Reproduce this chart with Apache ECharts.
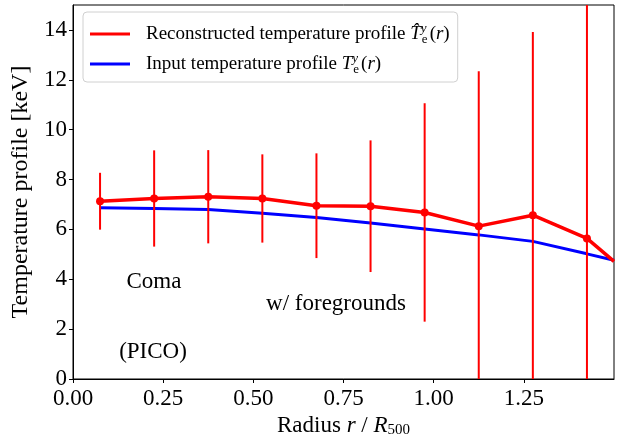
<!DOCTYPE html>
<html>
<head>
<meta charset="utf-8">
<script src="https://cdn.jsdelivr.net/npm/echarts@6/dist/echarts.min.js"></script>
<style>
html,body{margin:0;padding:0;background:#fff;}
#chart{width:621px;height:441px;}
</style>
</head>
<body>
<div id="chart"></div>
<script>
// ---- data ----
const radius = [0.075, 0.225, 0.375, 0.525, 0.675, 0.825, 0.975, 1.125, 1.275, 1.425, 1.5];
const reconTemp = [7.13, 7.24, 7.31, 7.24, 6.95, 6.93, 6.68, 6.13, 6.57, 5.64, 4.72];
const reconErr = [1.14, 1.93, 1.87, 1.77, 2.10, 2.64, 4.38, 6.21, 7.35, 10.5];
const inputTemp = [6.87, 6.84, 6.80, 6.65, 6.48, 6.26, 6.02, 5.78, 5.52, 5.02, 4.76];
const xTickValues = [0, 0.25, 0.5, 0.75, 1.0, 1.25];
const yTickValues = [0, 2, 4, 6, 8, 10, 12, 14];
const annotations = ['Coma', 'w/ foregrounds', '(PICO)'];

const FONT = '"Liberation Serif", "DejaVu Serif", serif';

const reconData = radius.map((r, i) => {
  const item = { value: [r, reconTemp[i]] };
  if (i >= reconErr.length) item.symbol = 'none';
  return item;
});
const inputData = radius.map((r, i) => [r, inputTemp[i]]);
const errData = reconErr.map((e, i) => [radius[i], reconTemp[i], e]);

const chart = echarts.init(document.getElementById('chart'), null, { renderer: 'canvas' });

const mathRich = {
  t: { fontFamily: FONT, fontSize: 19, color: '#000' },
  i: { fontFamily: FONT, fontSize: 19, fontStyle: 'italic', color: '#000' },
  p: { fontFamily: FONT, fontSize: 19, color: '#000' },
  sup: { fontFamily: FONT, fontSize: 13, fontStyle: 'italic', color: '#000', verticalAlign: 'top', width: 1 },
  sub: { fontFamily: FONT, fontSize: 13, color: '#000', verticalAlign: 'bottom', padding: [0, 2, 0, 0] },
  gap: { width: 11 }
};

chart.setOption({
  animation: false,
  backgroundColor: '#fff',
  grid: {
    left: 73, right: 7, top: 5, bottom: 62,
    show: true, borderColor: '#000', borderWidth: 1,
    containLabel: false, outerBoundsMode: 'none'
  },
  xAxis: {
    type: 'value', min: 0, max: 1.5,
    name: '{t|Radius }{i|r}{t| / }{i|R}{sub|500}',
    nameLocation: 'middle', nameGap: 35,
    nameTextStyle: {
      fontFamily: FONT, fontSize: 23, color: '#000',
      rich: {
        t: { fontFamily: FONT, fontSize: 23, color: '#000' },
        i: { fontFamily: FONT, fontSize: 23, fontStyle: 'italic', color: '#000' },
        sub: { fontFamily: FONT, fontSize: 15, color: '#000', verticalAlign: 'bottom' }
      }
    },
    axisLine: { show: true, lineStyle: { color: '#000', width: 1 } },
    axisTick: { show: true, inside: false, length: 4, lineStyle: { color: '#000' }, customValues: xTickValues },
    axisLabel: {
      customValues: xTickValues,
      formatter: v => v.toFixed(2),
      fontFamily: FONT, fontSize: 23, color: '#000', margin: 8
    },
    splitLine: { show: false }
  },
  yAxis: {
    type: 'value', min: 0, max: 15,
    name: 'Temperature profile [keV]',
    nameLocation: 'middle', nameGap: 37,
    nameTextStyle: { fontFamily: FONT, fontSize: 24, color: '#000' },
    axisLine: { show: true, lineStyle: { color: '#000', width: 1 } },
    axisTick: { show: true, inside: false, length: 4, lineStyle: { color: '#000' }, customValues: yTickValues },
    axisLabel: {
      customValues: yTickValues,
      fontFamily: FONT, fontSize: 23, color: '#000', margin: 6
    },
    splitLine: { show: false }
  },
  legend: {
    orient: 'vertical',
    left: 83, top: 12,
    padding: [10, 8, 6, 7],
    itemGap: 6,
    itemWidth: 40, itemHeight: 3,
    icon: 'rect',
    backgroundColor: 'rgba(255,255,255,0.85)',
    borderColor: '#d0d0d0', borderWidth: 1, borderRadius: 4,
    data: ['recon', 'input'],
    formatter: function (name) {
      if (name === 'recon') {
        return '{gap|}{t|Reconstructed temperature profile }{i|T\u0302}{sup|y}{sub|e}{p|(}{i|r}{p|)}';
      }
      return '{gap|}{t|Input temperature profile }{i|T}{sup|y}{sub|e}{p|(}{i|r}{p|)}';
    },
    textStyle: { fontFamily: FONT, fontSize: 19, color: '#000', lineHeight: 24, rich: mathRich }
  },
  graphic: [
    { type: 'text', x: 154, y: 282, style: { text: annotations[0], font: '23px ' + FONT, fill: '#000', align: 'center', verticalAlign: 'middle' }, z: 10 },
    { type: 'text', x: 336, y: 304, style: { text: annotations[1], font: '23px ' + FONT, fill: '#000', align: 'center', verticalAlign: 'middle' }, z: 10 },
    { type: 'text', x: 153, y: 352, style: { text: annotations[2], font: '23px ' + FONT, fill: '#000', align: 'center', verticalAlign: 'middle' }, z: 10 }
  ],
  series: [
    {
      name: 'input', type: 'line', data: inputData,
      showSymbol: false, symbol: 'none',
      lineStyle: { color: '#0000ff', width: 3 },
      itemStyle: { color: '#0000ff' },
      z: 2, clip: true
    },
    {
      name: 'errors', type: 'custom', data: errData,
      renderItem: function (params, api) {
        const x = api.value(0), y = api.value(1), e = api.value(2);
        const top = api.coord([x, y + e]);
        const bot = api.coord([x, y - e]);
        const cs = params.coordSys;
        const y1 = Math.max(cs.y, Math.min(cs.y + cs.height, top[1]));
        const y2 = Math.max(cs.y, Math.min(cs.y + cs.height, bot[1]));
        return {
          type: 'line',
          shape: { x1: top[0], y1: y1, x2: bot[0], y2: y2 },
          style: { stroke: '#ff0000', lineWidth: 2 }
        };
      },
      z: 3, silent: true
    },
    {
      name: 'recon', type: 'line', data: reconData,
      symbol: 'circle', symbolSize: 8, showSymbol: true,
      lineStyle: { color: '#ff0000', width: 3.5 },
      itemStyle: { color: '#ff0000' },
      z: 4, clip: true
    }
  ]
});
</script>
</body>
</html>
